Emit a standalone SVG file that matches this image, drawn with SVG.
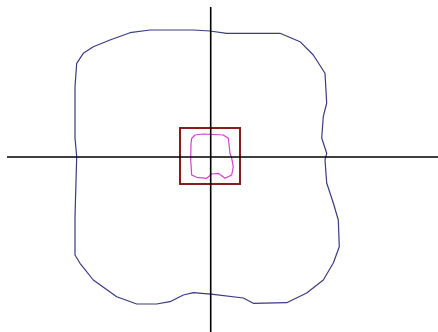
<svg xmlns="http://www.w3.org/2000/svg" width="438" height="332" viewBox="0 0 438 332">
<style>
.ax{stroke:#000;stroke-width:1.6;fill:none}
.outer{stroke:#3a3a80;stroke-width:1.2;fill:none;stroke-linejoin:round}
.inner{stroke:#cc44cc;stroke-width:1.2;fill:none;stroke-linejoin:round}
.box{stroke:#8b1a1a;stroke-width:2;fill:none}
</style>
<rect width="438" height="332" fill="#fff"/>
<path class="outer" d="M76.7,156.7 L75,138 L75,86.7 L76.7,63.3 L83.3,53.3 L93.3,46.7 L110,40 L130,32.7 L150,30 L193.3,30 L210,31 L226.7,33.3 L280,33.3 L300,41.7 L313.3,55 L325,73.3 L326.7,103 L323.3,116.7 L321.7,138 L326.7,153.3 L325,160 L326.7,183 L333.3,203 L338.3,220 L339.3,246.7 L333.3,263 L323.3,280 L306.7,293 L286.7,302.7 L253.3,303.3 L243.3,298 L213.3,294.3 L193.3,292.7 L183.3,295 L170,301.7 L156.7,304 L136.7,304 L116.7,296.7 L93.3,280 L80,263.3 L75,255 L75,216.7 Z"/>
<rect class="box" x="180" y="128" width="60" height="56"/>
<path class="inner" d="M191.7,138.3 L195,135 L203.3,134 L223.3,135 L228.3,138.3 L230,153.3 L231.7,158.3 L233.3,166.7 L231.7,175 L225,178.3 L218.3,173.3 L211.7,174 L206.7,178.3 L196.7,177.3 L191.7,175 L190.7,160 L191,143.3 Z"/>
<line class="ax" x1="7" y1="157" x2="438" y2="157"/>
<line class="ax" x1="210.7" y1="7" x2="210.7" y2="332"/>
</svg>
